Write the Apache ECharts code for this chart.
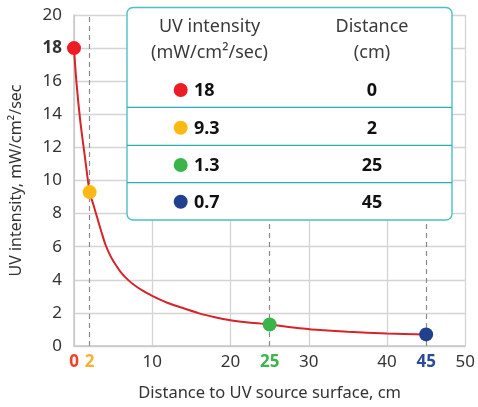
<!DOCTYPE html>
<html>
<head>
<meta charset="utf-8">
<script src="https://cdn.jsdelivr.net/npm/echarts@6/dist/echarts.min.js"></script>
<style>
  html, body { margin: 0; padding: 0; background: #fff; }
  #chart { width: 478px; height: 407px; }
</style>
</head>
<body>
<div id="chart"></div>
<script>
// Measured points (distance in cm, UV intensity in mW/cm²/sec)
const distances = [0, 2, 25, 45];
const intensities = [18, 9.3, 1.3, 0.7];
const intensityText = ['18', '9.3', '1.3', '0.7'];
const distanceText = ['0', '2', '25', '45'];
const pointColors = ['#ed1c24', '#fdb913', '#39b54a', '#21418f'];
const labelColors = ['#ef4123', '#f9b232', '#3fb34f', '#2e4a9b'];

// Fall-off curve through the measured points
const curveX = [0, 0.3, 0.8, 1.4, 2, 2.5, 3, 3.5, 4, 4.5, 5, 6, 7, 8, 9, 10, 11, 12, 13, 14, 16, 18, 20, 22, 25, 28, 31, 35, 40, 45];
const curveY = [18, 16.0, 13.6, 11.4, 9.3, 8.5, 7.7, 6.9, 6.15, 5.6, 5.15, 4.45, 3.95, 3.58, 3.28, 3.03, 2.8, 2.6, 2.43, 2.28, 1.97, 1.74, 1.56, 1.44, 1.3, 1.12, 0.98, 0.86, 0.76, 0.7];

// Axis tick labels
const xTickLabels = [0, 2, 10, 20, 25, 30, 40, 45, 50];
const yBoldLabel = 18;

const headerLeft = ['UV intensity', '(mW/cm²/sec)'];
const headerRight = ['Distance', '(cm)'];
const xAxisTitle = 'Distance to UV source surface, cm';
const yAxisTitle = 'UV intensity, mW/cm²/sec';

const FONT = '"Noto Sans", "Open Sans", sans-serif';
const chart = echarts.init(document.getElementById('chart'), null, { renderer: 'canvas' });

// Rich styles for highlighted x labels
const xRich = {};
distances.forEach((d, i) => {
  xRich['c' + i] = { color: labelColors[i], fontWeight: 'bold', fontSize: 17, fontFamily: FONT };
});

// Summary table drawn as graphic overlay
const tbl = { left: 127, top: 7.5, width: 325, height: 212.5 };
const rowY = [90, 127.7, 165, 201.7];
const sepY = [107.3, 145.3, 182.7];
const teal = '#4cc0c3';
const graphics = [
  { type: 'rect', z: 100, shape: { x: tbl.left, y: tbl.top, width: tbl.width, height: tbl.height, r: 6 },
    style: { fill: '#fff', stroke: teal, lineWidth: 1.4 } }
];
sepY.forEach(y => graphics.push({ type: 'line', z: 101,
  shape: { x1: tbl.left, y1: y, x2: tbl.left + tbl.width, y2: y },
  style: { stroke: '#2aaeb3', lineWidth: 1.2 } }));
headerLeft.forEach((t, k) => graphics.push({ type: 'text', z: 102, x: 209.5, y: 27 + k * 26,
  style: { text: t, fill: '#3a3a3a', font: '18px ' + FONT, align: 'center', verticalAlign: 'middle' } }));
headerRight.forEach((t, k) => graphics.push({ type: 'text', z: 102, x: 372, y: 27 + k * 26,
  style: { text: t, fill: '#3a3a3a', font: '18px ' + FONT, align: 'center', verticalAlign: 'middle' } }));
intensityText.forEach((t, i) => {
  graphics.push({ type: 'circle', z: 102, shape: { cx: 180.7, cy: rowY[i], r: 7 }, style: { fill: pointColors[i] } });
  graphics.push({ type: 'text', z: 102, x: 194, y: rowY[i] + 1,
    style: { text: t, fill: '#111', font: 'bold 18px ' + FONT, align: 'left', verticalAlign: 'middle' } });
  graphics.push({ type: 'text', z: 102, x: 372, y: rowY[i] + 1,
    style: { text: distanceText[i], fill: '#111', font: 'bold 18px ' + FONT, align: 'center', verticalAlign: 'middle' } });
});

const option = {
  animation: false,
  backgroundColor: '#fff',
  textStyle: { fontFamily: FONT },
  grid: { left: 71, right: 8, top: 15, bottom: 60, containLabel: false },
  xAxis: {
    type: 'value', min: 0, max: 50, interval: 10,
    name: xAxisTitle, nameLocation: 'middle', nameGap: 39,
    nameTextStyle: { color: '#333', fontSize: 16.5, fontFamily: FONT },
    axisLine: { show: true, lineStyle: { color: '#c8c8c8', width: 1.5 } },
    axisTick: { show: false },
    splitLine: { show: true, lineStyle: { color: '#d4d4d4', width: 1.3 } },
    axisLabel: {
      customValues: xTickLabels,
      margin: 8, color: '#333', fontSize: 17, fontFamily: FONT,
      formatter: v => {
        const i = distances.indexOf(v);
        return i >= 0 ? '{c' + i + '|' + v + '}' : String(v);
      },
      rich: xRich
    }
  },
  yAxis: {
    type: 'value', min: 0, max: 20, interval: 2,
    name: yAxisTitle, nameLocation: 'middle', nameGap: 50,
    nameTextStyle: { color: '#333', fontSize: 16, fontFamily: FONT },
    axisLine: { show: true, lineStyle: { color: '#c8c8c8', width: 1.5 } },
    axisTick: { show: false },
    splitLine: { show: true, lineStyle: { color: '#d4d4d4', width: 1.3 } },
    axisLabel: {
      margin: 12, color: '#333', fontSize: 17, fontFamily: FONT,
      formatter: v => v === yBoldLabel ? '{b|' + v + '}' : String(v),
      rich: { b: { fontWeight: 'bold', fontSize: 17, color: '#333', fontFamily: FONT } }
    }
  },
  series: [
    {
      type: 'line', z: 2,
      data: curveX.map((x, i) => [x, curveY[i]]),
      smooth: 0.3, showSymbol: false,
      lineStyle: { color: '#d7232a', width: 2 },
      markLine: {
        silent: true, symbol: 'none', z: 1,
        label: { show: false },
        lineStyle: { color: '#8a8a8a', type: [5, 4], width: 1.2 },
        data: distances.filter(d => d > 0).map(d => [{ coord: [d, 0] }, { coord: [d, 20] }])
      }
    },
    {
      type: 'scatter', z: 3, symbolSize: 14,
      data: distances.map((d, i) => ({ value: [d, intensities[i]], itemStyle: { color: pointColors[i], opacity: 1 } }))
    }
  ],
  graphic: graphics
};
chart.setOption(option);
</script>
</body>
</html>
